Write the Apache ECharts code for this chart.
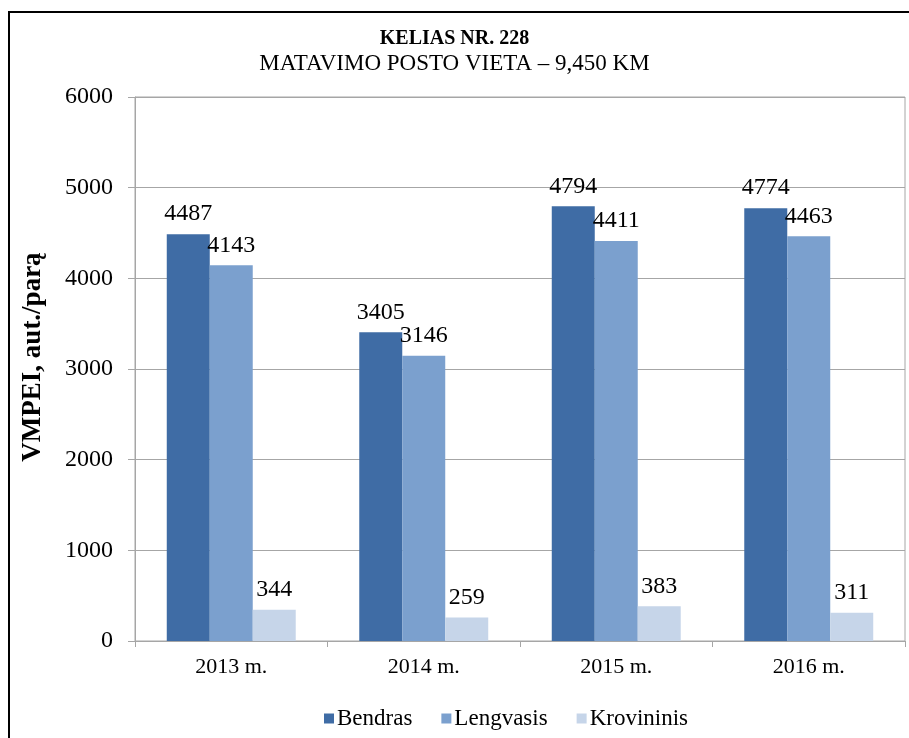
<!DOCTYPE html>
<html>
<head>
<meta charset="utf-8">
<script src="https://cdn.jsdelivr.net/npm/echarts@6/dist/echarts.min.js"></script>
<style>html,body{margin:0;padding:0;background:#fff}#c{width:909px;height:738px}</style>
</head>
<body>
<div id="c"></div>
<script>
const categories = ['2013 m.', '2014 m.', '2015 m.', '2016 m.'];
const bendras = [4487, 3405, 4794, 4774];
const lengvasis = [4143, 3146, 4411, 4463];
const krovininis = [344, 259, 383, 311];
const seriesNames = ['Bendras', 'Lengvasis', 'Krovininis'];
const yTicks = { min: 0, max: 6000, interval: 1000 };

const font = "'Liberation Serif', 'Times New Roman', serif";
const colors = ['#3F6CA5', '#7BA0CE', '#C6D5E9'];
const chart = echarts.init(document.getElementById('c'), null, { renderer: 'canvas' });

function mk(name, data, color) {
  return {
    name, type: 'bar', data, barGap: '0%', barCategoryGap: '33%',
    itemStyle: { color },
    label: { show: true, position: 'top', distance: 8, color: '#000', fontFamily: font, fontSize: 24 }
  };
}

chart.setOption({
  animation: false,
  backgroundColor: '#fff',
  textStyle: { fontFamily: font },
  title: [
    { text: 'KELIAS NR. 228', left: 'center', top: 24, textStyle: { fontFamily: font, fontSize: 20, fontWeight: 'bold', color: '#000' } },
    { text: 'MATAVIMO POSTO VIETA – 9,450 KM', left: 'center', top: 47, textStyle: { fontFamily: font, fontSize: 23, fontWeight: 'normal', color: '#000' } }
  ],
  graphic: [{ type: 'rect', shape: { x: 9, y: 12, width: 920, height: 760 }, style: { fill: 'none', stroke: '#000', lineWidth: 2 }, silent: true }],
  legend: {
    bottom: 3, left: 319, itemWidth: 10, itemHeight: 10, itemGap: 29,
    icon: 'rect', textStyle: { fontFamily: font, fontSize: 23, color: '#000', padding: [0, 0, 0, -2] },
    data: seriesNames
  },
  grid: { left: 135, right: 4, top: 97, bottom: 97, show: true, borderColor: '#A6A6A6', borderWidth: 1 },
  xAxis: {
    type: 'category', data: categories,
    axisLine: { lineStyle: { color: '#A6A6A6' } },
    axisTick: { show: true, length: 6, lineStyle: { color: '#A6A6A6' } },
    axisLabel: { fontFamily: font, fontSize: 22, color: '#000', margin: 15 }
  },
  yAxis: {
    type: 'value', min: yTicks.min, max: yTicks.max, interval: yTicks.interval,
    name: 'VMPEI, aut./parą', nameLocation: 'middle', nameGap: 88, nameRotate: 90,
    nameTextStyle: { fontFamily: font, fontSize: 27, fontWeight: 'bold', color: '#000', padding: [0, 0, 0, 24] },
    axisLine: { show: true, lineStyle: { color: '#A6A6A6' } },
    axisTick: { show: true, length: 7, lineStyle: { color: '#A6A6A6' } },
    axisLabel: { fontFamily: font, fontSize: 24, color: '#000', margin: 22, formatter: v => String(v) },
    splitLine: { lineStyle: { color: '#A6A6A6' } }
  },
  series: [
    mk(seriesNames[0], bendras, colors[0]),
    mk(seriesNames[1], lengvasis, colors[1]),
    mk(seriesNames[2], krovininis, colors[2])
  ]
});
</script>
</body>
</html>
